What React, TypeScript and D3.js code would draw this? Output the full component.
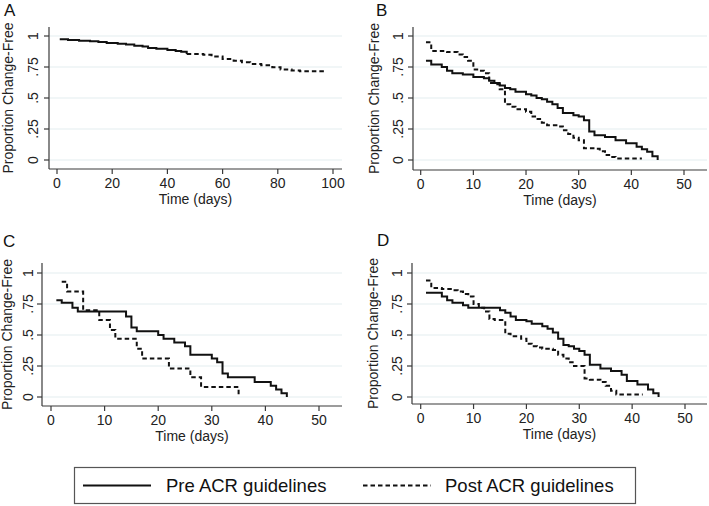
import React from "react";
import * as d3 from "d3";

// ---------- data (Kaplan-Meier step estimates) ----------
const panelLabels = ["A", "B", "C", "D"];
const yTickValues = [0, 0.25, 0.5, 0.75, 1];
const yTickLabels = ["0", ".25", ".5", ".75", "1"];
const xTicksA = [0, 20, 40, 60, 80, 100];
const xTicksBCD = [0, 10, 20, 30, 40, 50];
const xTitle = "Time (days)";
const yTitle = "Proportion Change-Free";
const legendLabels = ["Pre ACR guidelines", "Post ACR guidelines"];

const aPreDays = [1, 4, 8, 12, 15, 18, 22, 25, 28, 31, 33, 36, 40, 43, 45, 47];
const aPreSurv = [0.973, 0.968, 0.962, 0.957, 0.952, 0.944, 0.938, 0.932, 0.922, 0.915, 0.903, 0.897, 0.888, 0.88, 0.872, 0.855];
const aPostDays = [47, 53, 56, 60, 64, 67, 70, 74, 78, 81, 85, 88, 97];
const aPostSurv = [0.855, 0.848, 0.835, 0.815, 0.8, 0.788, 0.775, 0.765, 0.748, 0.73, 0.722, 0.715, 0.71];

const bPreDays = [1, 2, 4, 5, 6, 8, 10, 12, 13, 14, 15, 16, 17, 18, 20, 21, 22, 23, 24, 25, 26, 27, 29, 30, 31, 32, 33, 35, 37, 39, 41, 42, 43, 44, 45];
const bPreSurv = [0.8, 0.77, 0.75, 0.72, 0.7, 0.69, 0.67, 0.66, 0.64, 0.62, 0.6, 0.58, 0.57, 0.55, 0.53, 0.52, 0.5, 0.49, 0.47, 0.45, 0.42, 0.38, 0.36, 0.35, 0.32, 0.23, 0.2, 0.185, 0.16, 0.135, 0.107, 0.086, 0.067, 0.03, 0];
const bPostDays = [1, 2, 5, 7, 8, 9, 10, 11, 12, 13, 14, 15, 16, 17, 18, 20, 21, 22, 23, 24, 26, 27, 28, 29, 30, 31, 33, 34, 35, 36, 37, 42];
const bPostSurv = [0.95, 0.88, 0.87, 0.85, 0.83, 0.8, 0.73, 0.72, 0.7, 0.62, 0.61, 0.57, 0.45, 0.43, 0.41, 0.39, 0.35, 0.33, 0.3, 0.28, 0.27, 0.24, 0.21, 0.18, 0.16, 0.095, 0.09, 0.07, 0.04, 0.025, 0.013, 0.013];

const cPreDays = [1, 2, 4, 5, 14, 15, 16, 20, 21, 23, 25, 26, 30, 31, 32, 33, 38, 41, 42, 43, 44];
const cPreSurv = [0.78, 0.76, 0.72, 0.69, 0.65, 0.56, 0.53, 0.5, 0.47, 0.44, 0.41, 0.34, 0.31, 0.28, 0.19, 0.16, 0.12, 0.09, 0.06, 0.03, 0];
const cPostDays = [2, 3, 6, 9, 11, 12, 16, 17, 22, 26, 28, 35];
const cPostSurv = [0.93, 0.85, 0.7, 0.62, 0.54, 0.47, 0.39, 0.31, 0.23, 0.16, 0.08, 0];

const dPreDays = [1, 4, 5, 6, 8, 9, 15, 16, 17, 18, 20, 21, 23, 24, 25, 26, 27, 28, 29, 30, 31, 32, 34, 36, 38, 39, 41, 43, 44, 45];
const dPreSurv = [0.84, 0.81, 0.78, 0.76, 0.74, 0.72, 0.7, 0.68, 0.65, 0.62, 0.61, 0.59, 0.57, 0.55, 0.52, 0.47, 0.42, 0.41, 0.39, 0.37, 0.34, 0.26, 0.23, 0.21, 0.18, 0.13, 0.1, 0.06, 0.03, 0];
const dPostDays = [1, 2, 4, 6, 7, 8, 9, 10, 11, 12, 13, 14, 16, 17, 19, 20, 21, 22, 23, 25, 26, 27, 28, 29, 31, 32, 34, 35, 36, 37, 42];
const dPostSurv = [0.94, 0.88, 0.87, 0.86, 0.85, 0.83, 0.81, 0.75, 0.72, 0.69, 0.63, 0.62, 0.51, 0.49, 0.47, 0.43, 0.41, 0.4, 0.39, 0.38, 0.34, 0.31, 0.28, 0.25, 0.15, 0.14, 0.12, 0.09, 0.05, 0.02, 0.02];

type Pt = [number, number];
const zip = (a: number[], b: number[]): Pt[] => a.map((v, i) => [v, b[i]]);

// ---------- layout ----------
interface Layout {
  label: string;
  labelX: number;
  labelY: number;
  axisX: number;
  axisY: number;
  top: number;
  right: number;
  x0: number;
  x1: number;
  xMax: number;
  y0: number;
  y1: number;
  tickOff: number;
  titleOff: number;
  xTicks: number[];
  pre: Pt[];
  post: Pt[];
}

const layouts: Layout[] = [
  { label: panelLabels[0], labelX: 4, labelY: 16, axisX: 49, axisY: 169, top: 27, right: 342, x0: 57, x1: 333, xMax: 100, y0: 160, y1: 36, tickOff: 11, titleOff: 36, xTicks: xTicksA, pre: zip(aPreDays, aPreSurv), post: zip(aPostDays, aPostSurv) },
  { label: panelLabels[1], labelX: 376, labelY: 16, axisX: 413, axisY: 170, top: 27, right: 707, x0: 420.7, x1: 684, xMax: 50, y0: 160, y1: 36, tickOff: 10, titleOff: 34, xTicks: xTicksBCD, pre: zip(bPreDays, bPreSurv), post: zip(bPostDays, bPostSurv) },
  { label: panelLabels[2], labelX: 3, labelY: 247, axisX: 42, axisY: 406, top: 263, right: 342, x0: 51, x1: 319, xMax: 50, y0: 397, y1: 273, tickOff: 9, titleOff: 30, xTicks: xTicksBCD, pre: zip(cPreDays, cPreSurv), post: zip(cPostDays, cPostSurv) },
  { label: panelLabels[3], labelX: 377, labelY: 246, axisX: 412, axisY: 404, top: 263, right: 707, x0: 420.7, x1: 685, xMax: 50, y0: 397, y1: 273, tickOff: 10, titleOff: 34, xTicks: xTicksBCD, pre: zip(dPreDays, dPreSurv), post: zip(dPostDays, dPostSurv) },
];

const FONT = "'Liberation Sans', Arial, Helvetica, sans-serif";
const AXIS = "#3a3a3a";
const GRID = "#e3edf0";
const DASH = "4.5,3";

function Panel({ p }: { p: Layout }) {
  const x = d3.scaleLinear().domain([0, p.xMax]).range([p.x0, p.x1]);
  const y = d3.scaleLinear().domain([0, 1]).range([p.y0, p.y1]);
  const line = d3
    .line<Pt>()
    .x((d) => x(d[0]))
    .y((d) => y(d[1]))
    .curve(d3.curveStepAfter);
  const cy = (p.top + p.axisY) / 2;
  const cx = (p.axisX + p.right) / 2;
  return (
    <g>
      <text x={p.labelX} y={p.labelY} fontSize={17} fontFamily={FONT} fill="#111">
        {p.label}
      </text>
      {yTickValues.map((v) => (
        <line key={"g" + v} x1={p.axisX} x2={p.right} y1={y(v)} y2={y(v)} stroke={GRID} strokeWidth={1.2} />
      ))}
      <line x1={p.axisX} x2={p.axisX} y1={p.top} y2={p.axisY} stroke={AXIS} strokeWidth={1.2} />
      <line x1={p.axisX} x2={p.right} y1={p.axisY} y2={p.axisY} stroke={AXIS} strokeWidth={1.2} />
      {yTickValues.map((v, i) => (
        <g key={"yt" + v}>
          <line x1={p.axisX - 5} x2={p.axisX} y1={y(v)} y2={y(v)} stroke={AXIS} strokeWidth={1.2} />
          <text
            transform={`translate(${p.axisX - p.tickOff},${y(v)}) rotate(-90)`}
            textAnchor="middle"
            fontSize={14}
            fontFamily={FONT}
            fill="#222"
          >
            {yTickLabels[i]}
          </text>
        </g>
      ))}
      {p.xTicks.map((v) => (
        <g key={"xt" + v}>
          <line x1={x(v)} x2={x(v)} y1={p.axisY} y2={p.axisY + 5} stroke={AXIS} strokeWidth={1.2} />
          <text x={x(v)} y={p.axisY + 19} textAnchor="middle" fontSize={14} fontFamily={FONT} fill="#222">
            {v}
          </text>
        </g>
      ))}
      <text x={cx} y={p.axisY + 35} textAnchor="middle" fontSize={14} fontFamily={FONT} fill="#222">
        {xTitle}
      </text>
      <text
        transform={`translate(${p.axisX - p.titleOff},${cy}) rotate(-90)`}
        textAnchor="middle"
        fontSize={14}
        fontFamily={FONT}
        fill="#222"
      >
        {yTitle}
      </text>
      <path d={line(p.pre) || ""} fill="none" stroke="#111" strokeWidth={2} />
      <path d={line(p.post) || ""} fill="none" stroke="#111" strokeWidth={2} strokeDasharray={DASH} />
    </g>
  );
}

export default function App() {
  return (
    <svg
      width={709}
      height={506}
      style={{ position: "absolute", left: 0, top: 0, display: "block", background: "#fff" }}
    >
      <rect x={0} y={0} width={709} height={506} fill="#fff" />
      {layouts.map((p) => (
        <Panel key={p.label} p={p} />
      ))}
      <rect x={74.5} y={467.5} width={561} height={36} fill="#fff" stroke="#555" strokeWidth={1.2} />
      <line x1={83} x2={151} y1={485.5} y2={485.5} stroke="#111" strokeWidth={2} />
      <text x={166} y={492} fontSize={18.5} fontFamily={FONT} fill="#111">
        {legendLabels[0]}
      </text>
      <line x1={363} x2={431} y1={485.5} y2={485.5} stroke="#111" strokeWidth={2} strokeDasharray={DASH} />
      <text x={445} y={492} fontSize={18.5} fontFamily={FONT} fill="#111">
        {legendLabels[1]}
      </text>
    </svg>
  );
}
